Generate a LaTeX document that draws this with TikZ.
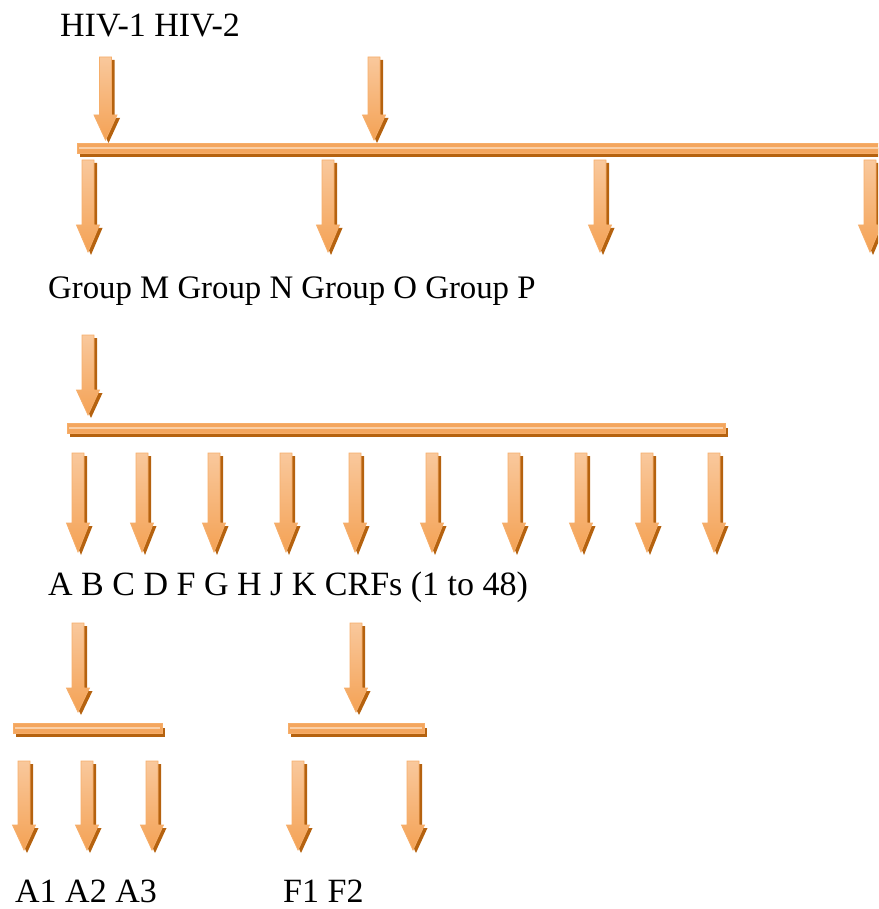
\documentclass[tikz,border=0pt]{standalone}
\usepackage{fontspec}
\setmainfont{Liberation Serif}
\definecolor{arrtop}{HTML}{F9C89C}
\definecolor{arrbot}{HTML}{F4A255}
\definecolor{arredge}{HTML}{F6AE6A}
\definecolor{arrshadow}{HTML}{B5620F}
\definecolor{barmain}{HTML}{F4A65E}
\definecolor{barlight}{HTML}{FAD0A8}
\tikzset{
  label/.style={inner sep=0pt, anchor=base west, text depth=0pt, font=\fontsize{34}{40}\selectfont},
  arrbody/.style={top color=arrtop, bottom color=arrbot, draw=arredge, line width=0.8pt, line join=miter},
  arrshade/.style={fill=arrshadow},
  barbody/.style={fill=barmain, draw=arredge, line width=0.8pt},
  barstripe/.style={fill=barlight},
}
% block arrow pointing down: centre x, shaft top, head start, tip
\newcommand\downarrowblock[4]{%
  \fill[arrshade, xshift=3pt, yshift=-3pt]
    ({#1-6},#2) -- ({#1+6},#2) -- ({#1+6},#3) -- ({#1+11.5},#3) -- (#1,#4)
    -- ({#1-11.5},#3) -- ({#1-6},#3) -- cycle;
  \shade[arrbody]
    ({#1-6},#2) -- ({#1+6},#2) -- ({#1+6},#3) -- ({#1+11.5},#3) -- (#1,#4)
    -- ({#1-11.5},#3) -- ({#1-6},#3) -- cycle;
}
% horizontal bar: left x, right x, top y
\newcommand\branchbar[3]{%
  \fill[arrshade] ({#1+3},{#3+5}) rectangle ({#2+3},{#3+14});
  \filldraw[barbody] (#1,#3) rectangle (#2,{#3+10});
  \fill[barstripe] ({#1+2},{#3+4}) rectangle ({#2-2},{#3+6});
}
\begin{document}
\begin{tikzpicture}[x=1pt, y=-1pt]
\useasboundingbox (0,0) rectangle (878,909);
\clip (0,0) rectangle (878,909);

% level 0: virus types
\node[label] (hiv) at (60,37) {HIV-1 HIV-2};
\downarrowblock{105.5}{57}{115}{140}
\downarrowblock{374}{57}{115}{140}
\branchbar{77}{890}{143}

% level 1: groups
\downarrowblock{88}{160}{225}{252}
\downarrowblock{328}{160}{225}{252}
\downarrowblock{600}{160}{225}{252}
\downarrowblock{870}{160}{225}{252}
\node[label, font=\fontsize{32.8}{40}\selectfont] (groups) at (48,298) {Group M Group N Group O Group P};

% level 2: subtypes of group M
\downarrowblock{88}{335}{390}{415}
\branchbar{67}{725}{423}
\foreach \cx in {78,142,214,286,355,432,514,581,647,714}{
  \downarrowblock{\cx}{453}{523}{552}
}
\node[label] (subtypes) at (48,595) {A B C D F G H J K CRFs (1 to 48)};

% level 3: sub-subtypes of A and F
\downarrowblock{78}{623}{688}{712}
\branchbar{13}{162}{723}
\foreach \cx in {24,87,152}{
  \downarrowblock{\cx}{761}{825}{850}
}
\downarrowblock{356}{623}{688}{712}
\branchbar{288}{424}{723}
\foreach \cx in {298,413}{
  \downarrowblock{\cx}{761}{825}{850}
}
\node[label] (asub) at (15,902) {A1 A2 A3};
\node[label] (fsub) at (283,902) {F1 F2};
\end{tikzpicture}
\end{document}
